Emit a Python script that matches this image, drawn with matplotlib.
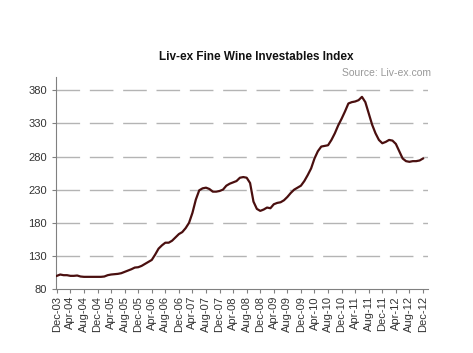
import matplotlib
matplotlib.use("Agg")
import matplotlib.pyplot as plt

plt.rcParams["font.family"] = ["Liberation Sans", "DejaVu Sans"]

# monthly index values, Dec-03 .. Dec-12
values = [
    100, 102, 101, 101, 100, 100, 100.5, 99, 98.5, 98.5, 98.5, 98.5,
    98.5, 98.5, 99, 101, 102, 102.5, 103, 104, 106, 108, 110, 112.5,
    113, 115, 118, 121, 124, 132, 141, 146, 150, 150, 153, 158,
    163, 166, 172, 180, 195, 215, 229, 232, 233, 231, 227, 227,
    228, 230, 236, 239, 241, 243, 248, 249, 248, 240, 212, 201,
    198, 200, 203, 202, 208, 210, 211, 214, 219, 225, 230, 233,
    236, 243, 252, 262, 277, 288, 295, 296, 297, 305, 315, 327,
    337, 348, 360, 362, 363, 365, 370, 362, 345, 328, 315, 305,
    300, 302, 305, 304, 299, 288, 277, 273, 272, 273, 273, 274,
    277,
]
months = list(range(len(values)))

tick_labels = ["Dec-03"]
for yr in range(4, 13):
    for mon in ["Apr", "Aug", "Dec"]:
        tick_labels.append(f"{mon}-{yr:02d}")
tick_pos = [4 * i for i in range(len(tick_labels))]
y_ticks = [80, 130, 180, 230, 280, 330, 380]

fig = plt.figure(figsize=(4.73, 3.53), dpi=100)
ax = fig.add_axes([0.118, 0.181, 0.787, 0.601])

for yv in y_ticks[1:]:
    ax.axhline(yv, color="#b4b4b4", lw=1.0, dashes=(17, 7), zorder=1)

ax.plot(months, values, color="#4a0f0f", lw=1.6, zorder=3)

ax.set_xlim(-0.3, 109.5)
ax.set_ylim(80, 400)
ax.set_yticks(y_ticks)
ax.set_xticks(tick_pos)
ax.set_xticklabels(tick_labels, rotation=90, fontsize=8, color="#333333")
ax.tick_params(axis="y", labelsize=8, labelcolor="#333333", length=3,
               color="#808080")
ax.tick_params(axis="x", length=3, color="#808080", pad=2)

for side in ("top", "right"):
    ax.spines[side].set_visible(False)
for side in ("left", "bottom"):
    ax.spines[side].set_color("#808080")

fig.text(0.541, 0.838, "Liv-ex Fine Wine Investables Index", ha="center",
         va="center", fontsize=8.5, fontweight="bold", color="#111111")
fig.text(0.912, 0.793, "Source: Liv-ex.com", ha="right", va="center",
         fontsize=7.5, color="#999999")

fig.savefig("out.png", dpi=100)
